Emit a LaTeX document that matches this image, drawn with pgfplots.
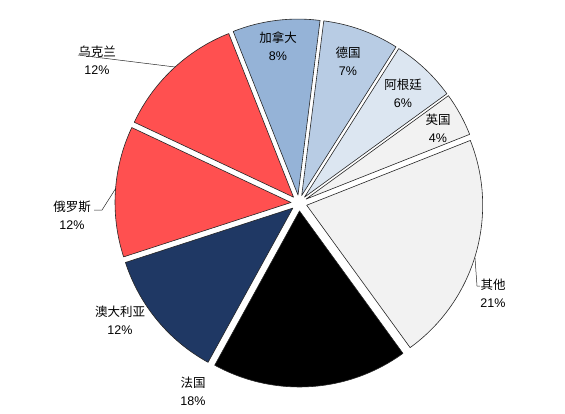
\documentclass[border=0pt]{standalone}
\usepackage{fontspec}
\setmainfont{Liberation Sans}
\newfontfamily\cjk{Noto Sans CJK SC}
\usepackage{pgfplots}
\usepackage{pgfplotstable}
\pgfplotsset{compat=1.18}

\definecolor{canada}{HTML}{95B3D7}
\definecolor{germany}{HTML}{B8CCE4}
\definecolor{argentina}{HTML}{DCE6F1}
\definecolor{uk}{HTML}{F2F2F2}
\definecolor{other}{HTML}{F2F2F2}
\definecolor{france}{HTML}{000000}
\definecolor{australia}{HTML}{1F3864}
\definecolor{russia}{HTML}{FF5050}
\definecolor{ukraine}{HTML}{FF5050}

% share (%), slice colour, label centre in pixel coords (y down)
\pgfplotstableread{
name value col lx ly
加拿大 8 canada 278 46
德国 7 germany 348 61
阿根廷 6 argentina 403 93
英国 4 uk 438 128
其他 21 other 493 293
法国 18 france 193 391
澳大利亚 12 australia 120 320
俄罗斯 12 russia 72 215
乌克兰 12 ukraine 97 60
}\piedata

\begin{document}
\begin{tikzpicture}
\begin{axis}[
	hide axis,
	scale only axis,
	width=565pt,
	height=413pt,
	xmin=0, xmax=565,
	ymin=0, ymax=413,
	clip=false,
]
\pgfplotsextra{
	\path (axis cs:0,0) rectangle (axis cs:565,413);
	\gdef\pieacc{111.6}
	\foreach \i in {0,...,8}{
		\pgfplotstablegetelem{\i}{value}\of\piedata \let\pval\pgfplotsretval
		\pgfplotstablegetelem{\i}{col}\of\piedata \edef\pc{\pgfplotsretval}
		\pgfplotstablegetelem{\i}{name}\of\piedata \let\pn\pgfplotsretval
		\pgfplotstablegetelem{\i}{lx}\of\piedata \let\plx\pgfplotsretval
		\pgfplotstablegetelem{\i}{ly}\of\piedata \let\ply\pgfplotsretval
		\pgfmathsetmacro\pa{\pieacc}
		\pgfmathsetmacro\pb{\pa-3.6*\pval}
		\pgfmathsetmacro\pmid{(\pa+\pb)/2}
		\xdef\pieacc{\pb}
		\filldraw[fill=\pc, draw=black!85, line width=0.6pt, line join=round]
			(axis cs:{299+8*cos(\pmid)},{210+8*sin(\pmid)}) -- ++(\pa:176pt)
			arc[start angle=\pa, end angle=\pb, radius=176pt] -- cycle;
		\node[align=center, inner sep=0pt, font=\fontsize{12.5}{18}\selectfont]
			at (axis cs:\plx,{413-\ply}) {{\cjk\pn}\\\pval\%};
	}
	% leader lines
	\draw[black!85, line width=0.5pt] (axis cs:78,358) -- (axis cs:175,346);
	\draw[black!85, line width=0.5pt] (axis cs:94,203) -- (axis cs:102,203) -- (axis cs:116,225);
	\draw[black!85, line width=0.5pt] (axis cs:475,155) -- (axis cs:477,127) -- (axis cs:480,127);
}
\end{axis}
\end{tikzpicture}
\end{document}
